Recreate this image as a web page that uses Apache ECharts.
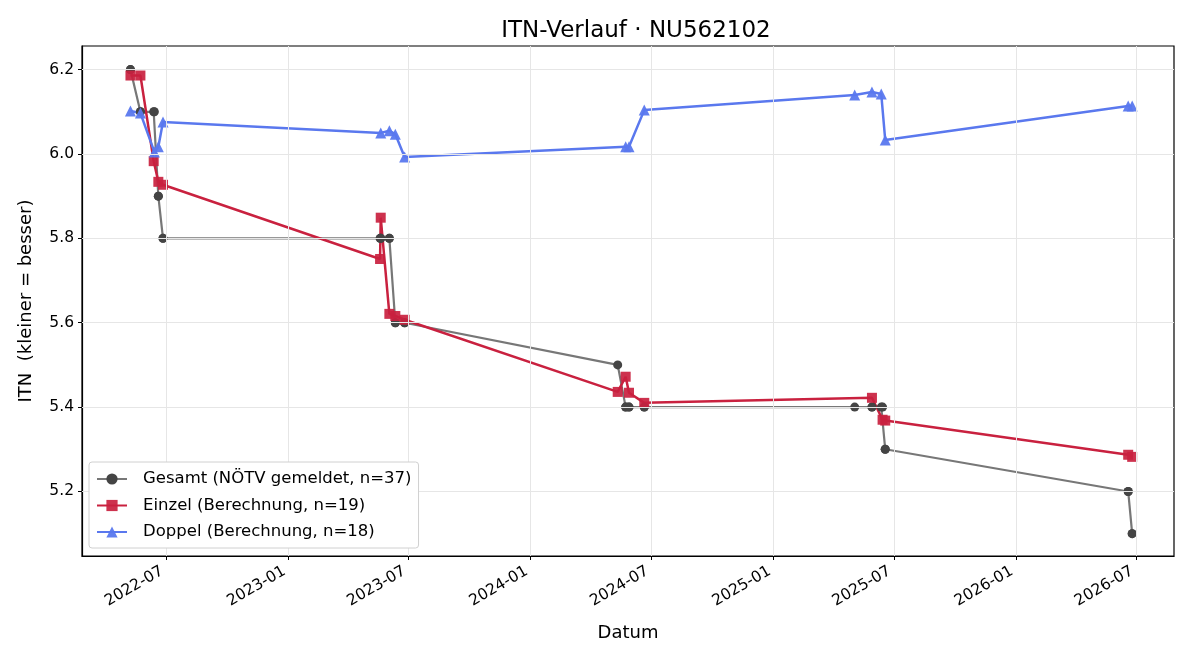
<!DOCTYPE html>
<html>
<head>
<meta charset="utf-8">
<script src="https://cdn.jsdelivr.net/npm/echarts@6/dist/echarts.min.js"></script>
<style>
  html, body { margin: 0; padding: 0; background: #fff; }
  #chart { width: 1200px; height: 660px; }
</style>
</head>
<body>
<div id="chart"></div>
<script>
// Gesamt (NÖTV gemeldet) – alle 37 Meldungen
const gesamtDates = [
  '2022-05-08', '2022-05-08', '2022-05-23', '2022-05-23', '2022-06-12', '2022-06-13',
  '2022-06-19', '2022-06-19', '2022-06-26', '2022-06-26',
  '2023-05-19', '2023-05-20', '2023-05-20', '2023-06-02', '2023-06-02',
  '2023-06-11', '2023-06-11', '2023-06-25', '2023-06-25',
  '2024-05-11', '2024-05-23', '2024-05-23', '2024-05-28', '2024-05-28', '2024-06-20', '2024-06-20',
  '2025-05-03', '2025-05-29', '2025-05-29', '2025-06-12', '2025-06-14', '2025-06-18', '2025-06-18',
  '2026-06-19', '2026-06-19', '2026-06-25', '2026-06-25'
];
const gesamtValues = [
  6.2, 6.2, 6.1, 6.1, 6.1, 6.1,
  5.9, 5.9, 5.8, 5.8,
  5.8, 5.8, 5.8, 5.8, 5.8,
  5.6, 5.6, 5.6, 5.6,
  5.5, 5.4, 5.4, 5.4, 5.4, 5.4, 5.4,
  5.4, 5.4, 5.4, 5.4, 5.4, 5.3, 5.3,
  5.2, 5.2, 5.1, 5.1
];

// Einzel (Berechnung)
const einzelDates = [
  '2022-05-08', '2022-05-23', '2022-06-12', '2022-06-19', '2022-06-26',
  '2023-05-19', '2023-05-20', '2023-06-02', '2023-06-11', '2023-06-25',
  '2024-05-11', '2024-05-23', '2024-05-28', '2024-06-20',
  '2025-05-29', '2025-06-14', '2025-06-18',
  '2026-06-19', '2026-06-25'
];
const einzelValues = [
  6.186, 6.186, 5.983, 5.934, 5.927,
  5.751, 5.849, 5.621, 5.616, 5.607,
  5.436, 5.472, 5.434, 5.410,
  5.422, 5.370, 5.368,
  5.287, 5.282
];

// Doppel (Berechnung)
const doppelDates = [
  '2022-05-08', '2022-05-23', '2022-06-13', '2022-06-19', '2022-06-26',
  '2023-05-20', '2023-06-02', '2023-06-11', '2023-06-25',
  '2024-05-23', '2024-05-28', '2024-06-20',
  '2025-05-03', '2025-05-29', '2025-06-12', '2025-06-18',
  '2026-06-19', '2026-06-25'
];
const doppelValues = [
  6.102, 6.097, 6.005, 6.017, 6.076,
  6.050, 6.055, 6.047, 5.993,
  6.017, 6.017, 6.104,
  6.140, 6.147, 6.142, 6.033,
  6.114, 6.114
];

const xTickLabels = ['2022-07', '2023-01', '2023-07', '2024-01', '2024-07', '2025-01', '2025-07', '2026-01', '2026-07'];
const yTickValues = [5.2, 5.4, 5.6, 5.8, 6.0, 6.2];

const toTs = (s) => {
  const [y, m, d] = s.split('-').map(Number);
  return new Date(y, m - 1, d || 1).getTime();
};
const pairs = (dates, values) => dates.map((d, i) => [toTs(d), values[i]]);

const xTicks = xTickLabels.map(toTs);
const font = 'DejaVu Sans';

const chart = echarts.init(document.getElementById('chart'), null, { renderer: 'canvas' });

const option = {
  animation: false,
  backgroundColor: '#fff',
  textStyle: { fontFamily: font },
  title: {
    text: 'ITN-Verlauf · NU562102',
    left: 631,
    textAlign: 'center',
    top: 15,
    textStyle: { fontFamily: font, fontSize: 23, fontWeight: 'normal', color: '#000' }
  },
  grid: {
    left: 82, right: 26, top: 46, bottom: 104,
    show: true, borderColor: '#000', borderWidth: 1.2, backgroundColor: 'transparent'
  },
  legend: {
    orient: 'vertical',
    left: 89,
    top: 462,
    z: 10,
    data: ['Gesamt (NÖTV gemeldet, n=37)', 'Einzel (Berechnung, n=19)', 'Doppel (Berechnung, n=18)'],
    itemWidth: 30,
    itemHeight: 14,
    itemGap: 8.5,
    padding: [8, 7, 7, 7],
    backgroundColor: '#fff',
    borderColor: '#d0d0d0',
    borderWidth: 1,
    borderRadius: 3,
    textStyle: { fontFamily: font, fontSize: 16.5, lineHeight: 18, color: '#000', padding: [0, 0, 0, 11] }
  },
  xAxis: {
    type: 'value',
    min: toTs('2022-02-24'),
    max: toTs('2026-08-27'),
    name: 'Datum',
    nameLocation: 'middle',
    nameGap: 68,
    nameTextStyle: { fontFamily: font, fontSize: 18, color: '#000' },
    axisLine: { show: true, onZero: false, lineStyle: { color: '#000', width: 1.2 } },
    axisTick: { show: true, length: 4, lineStyle: { color: '#000' }, customValues: xTicks },
    axisLabel: {
      customValues: xTicks,
      rotate: 30,
      align: 'right',
      verticalAlign: 'bottom',
      fontFamily: font, fontSize: 15.5, color: '#000',
      margin: 21,
      formatter: (v) => {
        const d = new Date(v);
        return d.getFullYear() + '-' + String(d.getMonth() + 1).padStart(2, '0');
      }
    },
    splitLine: { show: false }
  },
  yAxis: {
    type: 'value',
    min: 5.047,
    max: 6.256,
    name: 'ITN  (kleiner = besser)',
    nameLocation: 'middle',
    nameGap: 47,
    nameTextStyle: { fontFamily: font, fontSize: 18, color: '#000' },
    axisLine: { show: true, onZero: false, lineStyle: { color: '#000', width: 1.2 } },
    axisTick: { show: true, length: 4, lineStyle: { color: '#000' }, customValues: yTickValues },
    axisLabel: {
      customValues: yTickValues,
      fontFamily: font, fontSize: 15.5, color: '#000', margin: 8,
      formatter: (v) => v.toFixed(1)
    },
    splitLine: { show: false }
  },
  series: [
    {
      name: 'grid',
      type: 'line',
      data: [],
      silent: true,
      markLine: {
        silent: true,
        symbol: ['none', 'none'],
        label: { show: false },
        lineStyle: { color: '#e6e6e6', width: 1, type: 'solid' },
        emphasis: { disabled: true },
        data: xTicks.map((t) => ({ xAxis: t })).concat(yTickValues.map((v) => ({ yAxis: v })))
      }
    },
    {
      name: 'Gesamt (NÖTV gemeldet, n=37)',
      type: 'line',
      data: pairs(gesamtDates, gesamtValues),
      symbol: 'circle',
      symbolSize: 9,
      showAllSymbol: true,
      itemStyle: { color: '#444444' },
      lineStyle: { color: '#777777', width: 2.2 }
    },
    {
      name: 'Einzel (Berechnung, n=19)',
      type: 'line',
      data: pairs(einzelDates, einzelValues),
      symbol: 'rect',
      symbolSize: 10,
      showAllSymbol: true,
      itemStyle: { color: '#c9213f', opacity: 0.92 },
      lineStyle: { color: '#c9213f', width: 2.5 }
    },
    {
      name: 'Doppel (Berechnung, n=18)',
      type: 'line',
      data: pairs(doppelDates, doppelValues),
      symbol: 'triangle',
      symbolSize: 11,
      showAllSymbol: true,
      itemStyle: { color: '#5a78ee', opacity: 0.95 },
      lineStyle: { color: '#5a78ee', width: 2.5 }
    }
  ]
};

chart.setOption(option);
</script>
</body>
</html>
